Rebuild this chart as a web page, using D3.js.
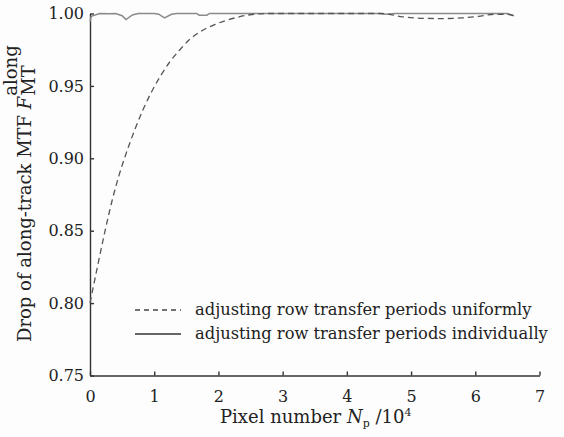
<!DOCTYPE html>
<html>
<head>
<meta charset="utf-8">
<script src="https://cdn.jsdelivr.net/npm/d3@7"></script>
<style>
  body { margin: 0; background: #fdfdfd; }
  svg { display: block; }
  .axis path, .axis line { stroke: #333; stroke-width: 1.4; }
  .axis text { font-family: "DejaVu Serif", serif; font-size: 16px; fill: #222; }
  .lbl { font-family: "DejaVu Serif", serif; font-size: 16.3px; fill: #222; }
  .title { font-family: "DejaVu Serif", serif; font-size: 18px; fill: #222; }
</style>
</head>
<body>
<script>
// x in units of 10^4 pixels
var uniformX = [0, 0.12, 0.23, 0.34, 0.45, 0.56, 0.7, 0.83, 0.96, 1.1, 1.25, 1.4, 1.55, 1.7, 1.95, 2.26, 2.52, 2.8, 3.5, 4.55, 4.87, 5.2, 5.5, 5.8, 6.05, 6.25, 6.5, 6.6];
var uniformY = [0.800, 0.826, 0.849, 0.870, 0.888, 0.903, 0.920, 0.934, 0.946, 0.957, 0.967, 0.975, 0.982, 0.987, 0.9925, 0.997, 0.9993, 1.0, 1.0, 1.0, 0.9977, 0.9967, 0.9965, 0.997, 0.998, 0.9993, 0.9995, 0.9985];

var indivX = [0, 0.02, 0.15, 0.3, 0.4, 0.5, 0.56, 0.66, 0.75, 1.0, 1.07, 1.16, 1.27, 1.35, 1.66, 1.7, 1.82, 1.86, 4.5, 4.6, 4.75, 6.5, 6.6];
var indivY = [0.9945, 0.998, 1.0, 0.9998, 1.0, 0.9985, 0.9958, 0.999, 1.0, 1.0, 0.9995, 0.997, 0.9995, 1.0, 1.0, 0.9988, 0.9988, 1.0, 1.0, 0.9995, 1.0, 1.0, 0.9985];

var xTicks = [0, 1, 2, 3, 4, 5, 6, 7];
var yTicks = [0.75, 0.80, 0.85, 0.90, 0.95, 1.00];
var legendLabels = ['adjusting row transfer periods uniformly', 'adjusting row transfer periods individually'];

var W = 564, H = 437;
var plotL = 90, plotR = 539.5, plotT = 13.5, plotB = 375.5;

var svg = d3.select('body').append('svg')
  .attr('width', W)
  .attr('height', H);

var x = d3.scaleLinear().domain([0, 7]).range([plotL, plotR]);
var y = d3.scaleLinear().domain([0.75, 1.0]).range([plotB, plotT]);

svg.append('g')
  .attr('class', 'axis')
  .attr('transform', 'translate(0,' + plotB + ')')
  .call(d3.axisBottom(x).tickValues(xTicks).tickFormat(d3.format('d'))
    .tickSizeInner(-4).tickSizeOuter(0).tickPadding(15));

svg.append('g')
  .attr('class', 'axis')
  .attr('transform', 'translate(' + plotL + ',0)')
  .call(d3.axisLeft(y).tickValues(yTicks).tickFormat(d3.format('.2f'))
    .tickSizeInner(-4).tickSizeOuter(0).tickPadding(6));

var line = d3.line()
  .x(function(d) { return x(d[0]); })
  .y(function(d) { return y(d[1]); });

svg.append('path')
  .datum(d3.zip(indivX, indivY))
  .attr('d', line)
  .attr('fill', 'none')
  .attr('stroke', '#8a8a8a')
  .attr('stroke-width', 1.5);

svg.append('path')
  .datum(d3.zip(uniformX, uniformY))
  .attr('d', line.curve(d3.curveMonotoneX))
  .attr('fill', 'none')
  .attr('stroke', '#555')
  .attr('stroke-width', 1.3)
  .attr('stroke-dasharray', '6,4');

// legend
var leg = svg.append('g').attr('transform', 'translate(135,310)');
leg.append('line').attr('x1', 0).attr('x2', 46).attr('y1', 0).attr('y2', 0)
  .attr('stroke', '#444').attr('stroke-width', 1.3).attr('stroke-dasharray', '5,4');
leg.append('line').attr('x1', 0).attr('x2', 46).attr('y1', 24).attr('y2', 24)
  .attr('stroke', '#333').attr('stroke-width', 1.3);
leg.selectAll('text.lbl')
  .data(legendLabels)
  .enter().append('text')
  .attr('class', 'lbl')
  .attr('x', 60)
  .attr('y', function(d, i) { return i * 24 + 5; })
  .text(function(d) { return d; });

// x label
var xl = svg.append('text').attr('class', 'title')
  .attr('x', 220).attr('y', 423);
xl.append('tspan').text('Pixel number ');
xl.append('tspan').attr('font-style', 'italic').text('N');
xl.append('tspan').attr('font-size', '11px').attr('dy', 4).text('p');
xl.append('tspan').attr('dy', -4).text(' /10');
xl.append('tspan').attr('font-size', '11px').attr('dy', -7).text('4');

// y label
var yg = svg.append('g').attr('transform', 'translate(31,342) rotate(-90)');
var yl = yg.append('text').attr('class', 'title').attr('x', 0).attr('y', 0);
yl.append('tspan').text('Drop of along-track MTF ');
yl.append('tspan').attr('font-style', 'italic').text('F');
var w = yl.node().getComputedTextLength();
yg.append('text').attr('class', 'title').attr('font-size', '10px')
  .attr('x', w + 1).attr('y', -14).text('along');
yg.append('text').attr('class', 'title').attr('font-size', '10px')
  .attr('x', w + 1).attr('y', 4).text('MT');
</script>
</body>
</html>
